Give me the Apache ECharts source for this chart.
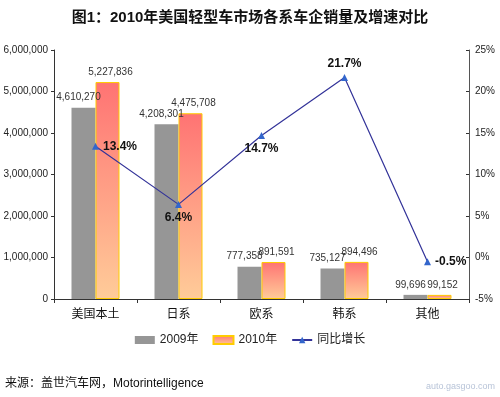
<!DOCTYPE html>
<html>
<head>
<meta charset="utf-8">
<script src="https://cdn.jsdelivr.net/npm/echarts@6/dist/echarts.min.js"></script>
<style>
  html, body { margin: 0; padding: 0; background: #fff; }
  #chart { width: 500px; height: 397px; }
</style>
</head>
<body>
<div id="chart"></div>
<script>
// categories and values
const categories = ['美国本土', '日系', '欧系', '韩系', '其他']
const sales2009 = [4610270, 4208301, 777358, 735127, 99696]
const sales2010 = [5227836, 4475708, 891591, 894496, 99152]
const growth = [13.4, 6.4, 14.7, 21.7, -0.5]
const growthLabelPos = ['right', 'bottom', 'bottom', 'top', 'right']
const leftTicks = [0, 6000000, 1000000]
const rightTicks = [-5, 25, 5]

const fontFamily = 'Arial, "Liberation Sans", "Noto Sans CJK SC", sans-serif'
const fmt = v => Number(v).toLocaleString('en-US')

const chart = echarts.init(document.getElementById('chart'))

const orangeFill = new echarts.graphic.LinearGradient(0, 0, 0, 1, [
  { offset: 0, color: '#ff7373' },
  { offset: 1, color: '#ffcc99' }
])

chart.setOption({
  animation: false,
  textStyle: { fontFamily: fontFamily },
  title: {
    text: '图1：2010年美国轻型车市场各系车企销量及增速对比',
    left: 'center',
    top: 5,
    textStyle: { fontSize: 15, fontWeight: 'bold', color: '#111' }
  },
  grid: { left: 54, right: 31, top: 50, bottom: 98 },
  legend: {
    bottom: 46,
    left: 'center',
    itemGap: 14,
    itemWidth: 20,
    itemHeight: 8,
    textStyle: { fontSize: 12, color: '#222' },
    data: [
      { name: '2009年', icon: 'rect' },
      { name: '2010年', icon: 'rect' },
      { name: '同比增长' }
    ]
  },
  xAxis: {
    type: 'category',
    data: categories,
    axisLine: { lineStyle: { color: '#333' } },
    axisTick: { show: true, length: 4, lineStyle: { color: '#333' } },
    axisLabel: { fontSize: 12, color: '#111', margin: 10 }
  },
  yAxis: [
    {
      type: 'value',
      min: leftTicks[0],
      max: leftTicks[1],
      interval: leftTicks[2],
      splitLine: { show: false },
      axisLine: { show: true, lineStyle: { color: '#333' } },
      axisTick: { show: true, length: 3, lineStyle: { color: '#333' } },
      axisLabel: { fontSize: 10, color: '#222', formatter: fmt, margin: 6 }
    },
    {
      type: 'value',
      min: rightTicks[0],
      max: rightTicks[1],
      interval: rightTicks[2],
      splitLine: { show: false },
      axisLine: { show: true, lineStyle: { color: '#555' } },
      axisTick: { show: true, inside: true, length: 3, lineStyle: { color: '#333' } },
      axisLabel: { fontSize: 10, color: '#222', formatter: '{value}%', margin: 6 }
    }
  ],
  series: [
    {
      name: '2009年',
      type: 'bar',
      data: sales2009,
      barWidth: 24,
      barGap: '0%',
      itemStyle: { color: '#969696' },
      label: {
        show: true,
        position: 'top',
        offset: [-5, 0],
        fontSize: 10,
        color: '#333',
        formatter: p => fmt(p.value)
      }
    },
    {
      name: '2010年',
      type: 'bar',
      data: sales2010,
      barWidth: 24,
      itemStyle: { color: orangeFill, borderColor: '#ffcc00', borderWidth: 1 },
      label: {
        show: true,
        position: 'top',
        offset: [3, 0],
        fontSize: 10,
        color: '#333',
        formatter: p => fmt(p.value)
      }
    },
    {
      name: '同比增长',
      type: 'line',
      yAxisIndex: 1,
      data: growth.map((v, i) => ({
        value: v,
        label: { position: growthLabelPos[i] }
      })),
      symbol: 'triangle',
      symbolSize: 7,
      lineStyle: { color: '#333399', width: 1.2 },
      itemStyle: { color: '#3366cc' },
      label: {
        show: true,
        fontSize: 12,
        fontWeight: 'bold',
        color: '#111',
        distance: 4,
        formatter: p => p.value + '%'
      },
      z: 5
    }
  ],
  graphic: [
    {
      type: 'text',
      left: 5,
      top: 378,
      style: {
        text: '来源：盖世汽车网，Motorintelligence',
        fontSize: 12,
        fill: '#111',
        fontFamily: fontFamily
      }
    },
    {
      type: 'text',
      right: 5,
      top: 382,
      style: {
        text: 'auto.gasgoo.com',
        fontSize: 9,
        fill: '#b8c4d8',
        fontFamily: fontFamily
      }
    }
  ]
})
</script>
</body>
</html>
